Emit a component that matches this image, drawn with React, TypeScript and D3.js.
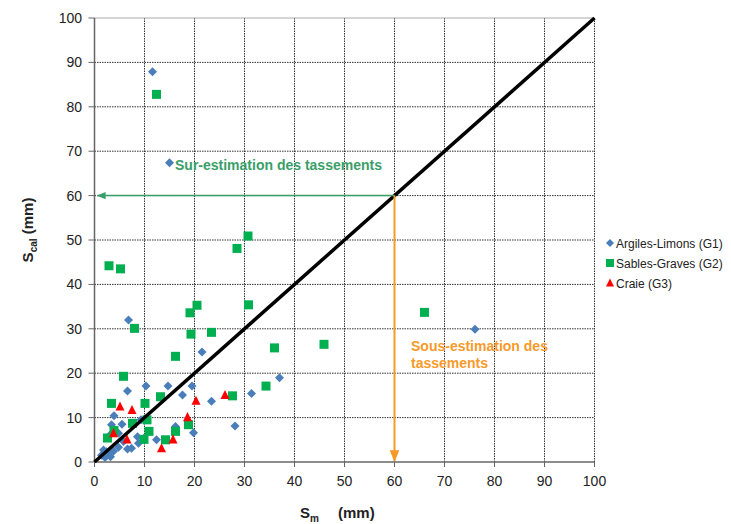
import React from "react";
import * as d3 from "d3";

const ticks = [0, 10, 20, 30, 40, 50, 60, 70, 80, 90, 100];

const g1: [number, number][] = [
  [11.6, 87.9], [15, 67.4], [6.8, 32], [21.5, 24.8], [10.3, 17.1], [14.7, 17.1], [6.6, 16],
  [19.5, 17.1], [17.6, 15.1], [23.4, 13.7], [31.4, 15.4], [37, 19], [76.1, 29.9], [28.1, 8.1],
  [3.9, 10.4], [3.4, 8.4], [5.5, 8.5], [16.2, 8], [19.8, 6.6], [12.4, 5], [8.6, 5.7], [6.6, 2.9],
  [9.3, 9.5], [4.8, 6.5], [3.1, 6.1], [5.8, 4.6], [7.4, 3.1], [8.8, 4.2], [9.8, 5.3], [1.8, 2.7],
  [2.8, 2], [2.1, 1], [3.8, 2.4], [4.8, 3.3], [1.4, 1.5], [3.2, 1.2], [2.4, 2.3],
];

const g2: [number, number][] = [
  [12.4, 82.8], [2.9, 44.2], [5.2, 43.5], [28.5, 48.1], [30.7, 50.9], [20.5, 35.3], [30.8, 35.4],
  [19.1, 33.6], [8, 30.1], [19.3, 28.8], [23.4, 29.2], [16.2, 23.8], [5.8, 19.3], [3.4, 13.2],
  [10.1, 13.2], [13.2, 14.7], [27.6, 14.9], [7.6, 8.7], [10.5, 9.5], [3.9, 7.1], [10.9, 6.9],
  [18.8, 8.4], [16.2, 6.9], [2.6, 5.4], [9.9, 5.1], [14.2, 5], [36, 25.7], [45.9, 26.5],
  [34.3, 17.1], [66, 33.7],
];

const g3: [number, number][] = [
  [5.1, 12.5], [7.5, 11.7], [20.3, 13.8], [26.1, 15.1], [18.6, 10.1], [3.8, 6.5], [6.5, 5.1],
  [13.4, 3.1], [15.7, 5.1],
];

const legendLabels = ["Argiles-Limons (G1)", "Sables-Graves (G2)", "Craie  (G3)"];
const threshold = 60;

const FONT = "'Liberation Sans', Arial, sans-serif";
const BLUE = "#4A7EBB";
const GREEN = "#00B050";
const RED = "#FF0000";
const TEAL = "#3A9E68";
const ORANGE = "#F79A2A";

export default function App() {
  const x = d3.scaleLinear().domain([0, 100]).range([94.5, 594.5]);
  const y = d3.scaleLinear().domain([0, 100]).range([462, 18]);

  const diamond = (cx: number, cy: number, r: number) =>
    `M${cx},${cy - r}L${cx + r},${cy}L${cx},${cy + r}L${cx - r},${cy}Z`;
  const tri = (cx: number, cy: number, s: number) => {
    const h = s * 0.9;
    return `M${cx},${cy - h / 2 - 1}L${cx + s / 2},${cy + h / 2}L${cx - s / 2},${cy + h / 2}Z`;
  };
  const line = d3.line<[number, number]>().x((d) => x(d[0])).y((d) => y(d[1]));

  return (
    <svg
      width={731}
      height={524}
      style={{ position: "absolute", left: 0, top: 0, background: "#fff" }}
      fontFamily={FONT}
    >
      <defs>
        <marker id="arrG" viewBox="0 0 10 10" refX="9" refY="5" markerWidth="6" markerHeight="6" orient="auto-start-reverse">
          <path d="M0,1L10,5L0,9Z" fill={TEAL} />
        </marker>
        <marker id="arrO" viewBox="0 0 10 10" refX="9" refY="5" markerWidth="6" markerHeight="6" orient="auto-start-reverse">
          <path d="M0,1L10,5L0,9Z" fill={ORANGE} />
        </marker>
      </defs>
      <rect width={731} height={524} fill="#fff" />
      {/* grid */}
      {ticks.filter((t) => t > 0).map((t) => (
        <line key={"gx" + t} x1={x(t)} x2={x(t)} y1={y(0)} y2={y(100)} stroke="#333" strokeWidth={1} strokeDasharray="1.5,1" />
      ))}
      {ticks.filter((t) => t > 0 && t < 100).map((t) => (
        <line key={"gy" + t} x1={x(0)} x2={x(100)} y1={y(t)} y2={y(t)} stroke="#333" strokeWidth={1} strokeDasharray="1.5,1" />
      ))}
      <line x1={x(0)} x2={x(100)} y1={y(100)} y2={y(100)} stroke="#aaa" strokeWidth={1} />
      {/* axes */}
      <line x1={x(0)} x2={x(0)} y1={y(0)} y2={y(100)} stroke="#666" strokeWidth={1.5} />
      <line x1={x(0)} x2={x(100)} y1={y(0)} y2={y(0)} stroke="#666" strokeWidth={1.5} />
      {ticks.map((t) => (
        <g key={"ty" + t}>
          <line x1={x(0) - 6} x2={x(0)} y1={y(t)} y2={y(t)} stroke="#666" />
          <text x={82} y={y(t) + 5} textAnchor="end" fontSize={14} fill="#222">{t}</text>
        </g>
      ))}
      {ticks.map((t) => (
        <g key={"tx" + t}>
          <line x1={x(t)} x2={x(t)} y1={y(0)} y2={y(0) + 5} stroke="#666" />
          <text x={x(t)} y={486} textAnchor="middle" fontSize={14} fill="#222">{t}</text>
        </g>
      ))}
      {/* points */}
      {g1.map((d, i) => (
        <path key={"b" + i} d={diamond(x(d[0]), y(d[1]), 4.5)} fill={BLUE} />
      ))}
      {g2.map((d, i) => (
        <rect key={"s" + i} x={x(d[0]) - 4.5} y={y(d[1]) - 4.5} width={9} height={9} fill={GREEN} />
      ))}
      {g3.map((d, i) => (
        <path key={"t" + i} d={tri(x(d[0]), y(d[1]), 9)} fill={RED} />
      ))}
      {/* diagonal */}
      <path d={line([[0, 0], [100, 100]]) || ""} stroke="#000" strokeWidth={3.5} fill="none" />
      {/* arrows */}
      <line x1={x(threshold)} y1={y(threshold)} x2={x(0) + 3} y2={y(threshold)} stroke={TEAL} strokeWidth={1.5} markerEnd="url(#arrG)" />
      <line x1={x(threshold)} y1={y(threshold)} x2={x(threshold)} y2={y(0) - 1} stroke={ORANGE} strokeWidth={2} markerEnd="url(#arrO)" />
      <text x={175} y={170} fontSize={14} fontWeight="bold" fill={TEAL}>Sur-estimation des tassements</text>
      <text x={411} y={351} fontSize={14} fontWeight="bold" fill={ORANGE}>Sous-estimation des</text>
      <text x={411} y={368} fontSize={14} fontWeight="bold" fill={ORANGE}>tassements</text>
      {/* axis titles */}
      <text transform="translate(33,230) rotate(-90)" textAnchor="middle" fontSize={15} fontWeight="bold" fill="#222">
        S<tspan fontSize={10} dy={4}>cal</tspan><tspan dy={-4}> (mm)</tspan>
      </text>
      <text x={300} y={518} fontSize={15} fontWeight="bold" fill="#222">
        S<tspan fontSize={10} dy={4}>m</tspan><tspan dy={-4} x={338}>(mm)</tspan>
      </text>
      {/* legend */}
      {legendLabels.map((lab, i) => {
        const ly = 243 + i * 20;
        return (
          <g key={lab}>
            {i === 0 && <path d={diamond(610, ly, 4)} fill={BLUE} />}
            {i === 1 && <rect x={606} y={ly - 4} width={8} height={8} fill={GREEN} />}
            {i === 2 && <path d={tri(610, ly, 8)} fill={RED} />}
            <text x={616} y={ly + 4.5} fontSize={12} fill="#222">{lab}</text>
          </g>
        );
      })}
    </svg>
  );
}
